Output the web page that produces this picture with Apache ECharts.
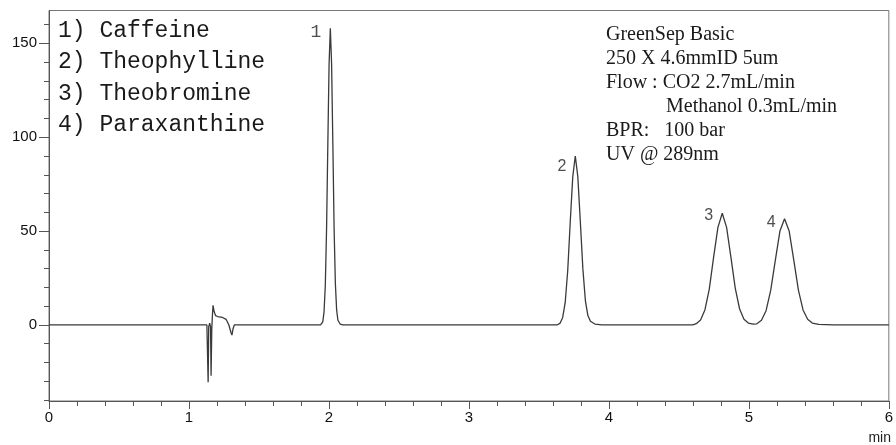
<!DOCTYPE html>
<html>
<head>
<meta charset="utf-8">
<script src="https://cdn.jsdelivr.net/npm/echarts@6/dist/echarts.min.js"></script>
<style>
html,body{margin:0;padding:0;background:#fff;}
#chart{width:896px;height:445px;}
</style>
</head>
<body>
<div id="chart"></div>
<script>
// Chromatogram trace (time in min, signal)
var times = [0, 1.128, 1.133, 1.137, 1.141, 1.148, 1.154, 1.158, 1.163, 1.168, 1.172, 1.18, 1.19, 1.205, 1.24, 1.265, 1.285, 1.3, 1.307, 1.315, 1.324,
  1.94, 1.956, 1.965, 1.974, 1.983, 1.992, 2.001, 2.01, 2.019, 2.028, 2.037, 2.046, 2.055, 2.064, 2.08, 2.1,
  3.63, 3.652, 3.67, 3.688, 3.706, 3.724, 3.742, 3.76, 3.778, 3.796, 3.814, 3.832, 3.85, 3.868, 3.9, 3.95,
  4.6, 4.624, 4.655, 4.686, 4.717, 4.748, 4.779, 4.81, 4.841, 4.872, 4.903, 4.934, 4.965, 4.996, 5.03,
  5.057, 5.09, 5.123, 5.156, 5.189, 5.222, 5.255, 5.288, 5.321, 5.354, 5.387, 5.42, 5.453, 5.5, 5.6, 6.0];
var signal = [0, 0, -1, -30.5, -1, 1, -1, -27, -2, 6, 10.5, 7, 5, 4.5, 4, 3, 0, -4, -5.4, -2, 0,
  0, 1.7, 7, 21, 51, 96, 139, 158, 139, 96, 51, 22, 8, 2.5, 0.5, 0,
  0, 1, 4, 12, 29, 55, 79, 90, 79, 55, 30, 13, 5, 2, 0.5, 0,
  0, 0.7, 2.6, 8, 19, 36, 52, 59.5, 52, 36, 19.5, 8.5, 3, 1, 0.4,
  0.6, 2.5, 7.6, 18.4, 34.4, 50, 56.6, 50, 34.5, 18.6, 8, 3, 1, 0.3, 0, 0];

// Peak labels
var peakNames = ['1', '2', '3', '4'];
var peakTimes = [2.01, 3.76, 4.81, 5.255];
var peakHeights = [158, 90, 59.5, 56.6];

// Axis ticks
var yTickValues = [0, 50, 100, 150];
var yMinorValues = [-40, -30, -20, -10, 0, 10, 20, 30, 40, 50, 60, 70, 80, 90, 100, 110, 120, 130, 140, 150, 160];

// Texts
var compounds = ['1) Caffeine', '2) Theophylline', '3) Theobromine', '4) Paraxanthine'];
var conditions = ['GreenSep Basic', '250 X 4.6mmID 5um', 'Flow : CO2 2.7mL/min', '            Methanol 0.3mL/min', 'BPR:   100 bar', 'UV @ 289nm'];

var trace = times.map(function (t, i) { return [t, signal[i]]; });
var labelOffsets = [[0, 4], [0, 11], [0, 2], [0, 4]];
var labelFonts = ['Liberation Mono', 'Liberation Sans', 'Liberation Sans', 'Liberation Sans'];
var peakData = peakTimes.map(function (t, i) {
  return {
    value: [t, peakHeights[i], peakNames[i]],
    label: { offset: labelOffsets[i], fontFamily: labelFonts[i], fontSize: i === 0 ? 18 : 16 }
  };
});

var chart = echarts.init(document.getElementById('chart'), null, { renderer: 'canvas' });
var axisColor = '#555';
chart.setOption({
  animation: false,
  backgroundColor: '#fff',
  grid: { left: 49, right: 3, top: 10.5, bottom: 44, show: true, borderColor: '#777', borderWidth: 1, backgroundColor: 'transparent' },
  xAxis: {
    type: 'value', min: 0, max: 6, interval: 1,
    axisLine: { show: true, onZero: false, lineStyle: { color: axisColor, width: 1 } },
    axisTick: { show: true, length: 8, lineStyle: { color: axisColor } },
    minorTick: { show: true, splitNumber: 5, length: 5, lineStyle: { color: axisColor } },
    axisLabel: { color: '#111', fontSize: 15, fontFamily: 'Liberation Sans', margin: 9 },
    splitLine: { show: false }
  },
  yAxis: [{
    type: 'value', min: -40.5, max: 167.5,
    axisLine: { show: true, onZero: false, lineStyle: { color: axisColor, width: 1 } },
    axisTick: { show: true, length: 10, customValues: yTickValues, lineStyle: { color: axisColor } },
    axisLabel: { color: '#111', fontSize: 15, fontFamily: 'Liberation Sans', margin: 12, customValues: yTickValues },
    splitLine: { show: false }
  }, {
    type: 'value', min: -40.5, max: 167.5, position: 'left',
    axisLine: { show: false },
    axisTick: { show: true, length: 5, customValues: yMinorValues, lineStyle: { color: axisColor } },
    axisLabel: { show: false },
    splitLine: { show: false }
  }],
  series: [{
    type: 'line', data: trace, showSymbol: false, symbol: 'none',
    lineStyle: { color: '#3a3a3a', width: 1.3 },
    z: 3
  }, {
    type: 'scatter', data: peakData, symbolSize: 0,
    label: {
      show: true, position: 'left', distance: 9, color: '#222',
      formatter: function (p) { return p.value[2]; }
    },
    z: 4
  }],
  graphic: [{
    type: 'text', left: 58, top: 15,
    style: { text: compounds.join('\n'), font: '23px "Liberation Mono"', fill: '#1a1a1a', lineHeight: 31.5 }
  }, {
    type: 'text', left: 606, top: 23,
    style: { text: conditions.join('\n'), font: '20px "Liberation Serif"', fill: '#1a1a1a', lineHeight: 24 }
  }, {
    type: 'text', right: 5, bottom: 0,
    style: { text: 'min', font: '14px "Liberation Sans"', fill: '#222' }
  }]
});
</script>
</body>
</html>
